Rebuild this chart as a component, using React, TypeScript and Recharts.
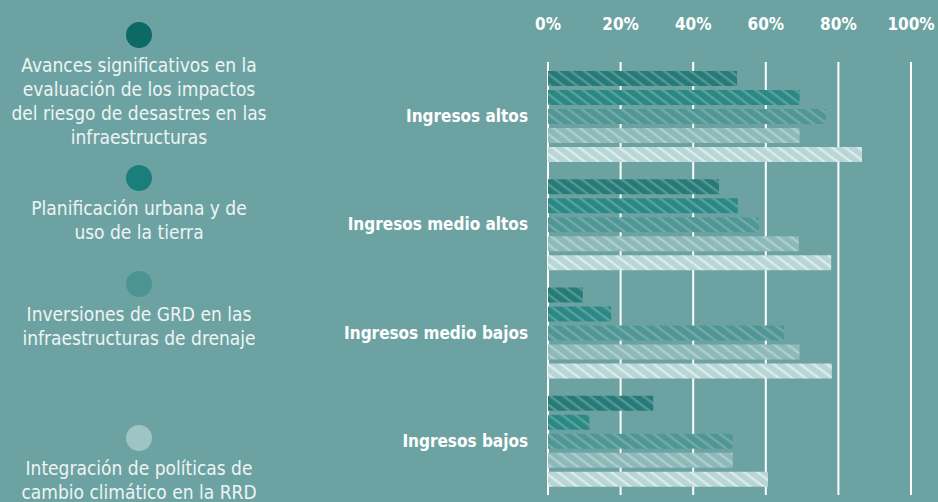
import { BarChart, Bar, XAxis, YAxis, CartesianGrid } from 'recharts'

const categories = ['Ingresos altos', 'Ingresos medio altos', 'Ingresos medio bajos', 'Ingresos bajos']
const evaluacion = [52.1, 47.1, 9.6, 29.0]
const planificacion = [69.3, 52.3, 17.4, 11.4]
const drenaje = [76.5, 58.1, 65.1, 50.9]
const integracion = [69.3, 69.1, 69.3, 50.9]
const otros = [86.5, 78.0, 78.2, 60.6]
const ticks = [0, 20, 40, 60, 80, 100]

const legendLabels = [
  'Avances significativos en la\nevaluación de los impactos\ndel riesgo de desastres en las\ninfraestructuras',
  'Planificación urbana y de\nuso de la tierra',
  'Inversiones de GRD en las\ninfraestructuras de drenaje',
  'Integración de políticas de\ncambio climático en la RRD',
]
const legendColors = ['#0d6966', '#1a7e7b', '#4b9493', '#9fc4c4']

const seriesKeys = ['evaluacion', 'planificacion', 'drenaje', 'integracion', 'otros']
const barColors = ['#267b78', '#2a8885', '#4f9695', '#8db9b9', '#b8d6d6']
const stripeOpacity = [0.22, 0.22, 0.2, 0.3, 0.5]

const data = categories.map((name, i) => ({
  name,
  evaluacion: evaluacion[i],
  planificacion: planificacion[i],
  drenaje: drenaje[i],
  integracion: integracion[i],
  otros: otros[i],
}))

const BG = '#6ca3a2'
const FONT = '"Liberation Sans Narrow", "DejaVu Sans Condensed", Roboto, sans-serif'
const legendTops = [22, 165, 271, 425]

export default function App() {
  return (
    <div style={{ position: 'absolute', left: 0, top: 0, width: 938, height: 502, background: BG, overflow: 'hidden', fontFamily: FONT }}>
      <BarChart
        width={938}
        height={502}
        data={data}
        layout="vertical"
        margin={{ top: 2, right: 27, left: 0, bottom: 7 }}
        barSize={15}
        barGap={4}
      >
        <defs>
          {barColors.map((c, i) => (
            <pattern
              key={i}
              id={`hatch${i}`}
              patternUnits="userSpaceOnUse"
              width={8}
              height={8}
              patternTransform="rotate(37)"
            >
              <rect x={0} y={0} width={8} height={8} fill={c} />
              <rect x={0} y={0} width={8} height={2.4} fill="#ffffff" fillOpacity={stripeOpacity[i]} />
            </pattern>
          ))}
        </defs>
        <CartesianGrid horizontal={false} stroke="#ffffff" strokeWidth={2} strokeOpacity={1} />
        <XAxis
          type="number"
          orientation="top"
          domain={[0, 100]}
          ticks={ticks}
          height={60}
          axisLine={false}
          tickLine={false}
          tickSize={0}
          tickMargin={32}
          tickFormatter={(v) => `${v}%`}
          tick={{ fill: '#ffffff', fontSize: 17, fontWeight: 700, fontFamily: FONT }}
        />
        <YAxis
          type="category"
          dataKey="name"
          width={548}
          axisLine={false}
          tickLine={false}
          tickSize={0}
          tickMargin={20}
          tick={{ fill: '#ffffff', fontSize: 17, fontWeight: 700, fontFamily: FONT }}
        />
        {seriesKeys.map((k, i) => (
          <Bar key={k} dataKey={k} fill={`url(#hatch${i})`} isAnimationActive={false} />
        ))}
      </BarChart>
      {legendLabels.map((label, i) => (
        <div key={i} style={{ position: 'absolute', left: 0, top: legendTops[i], width: 278, textAlign: 'center' }}>
          <div style={{ width: 26, height: 26, borderRadius: 13, background: legendColors[i], margin: '0 auto' }} />
          <div style={{ marginTop: 5, color: '#eef4f4', fontSize: 19, lineHeight: '24px', whiteSpace: 'pre-line' }}>
            {label}
          </div>
        </div>
      ))}
    </div>
  )
}
